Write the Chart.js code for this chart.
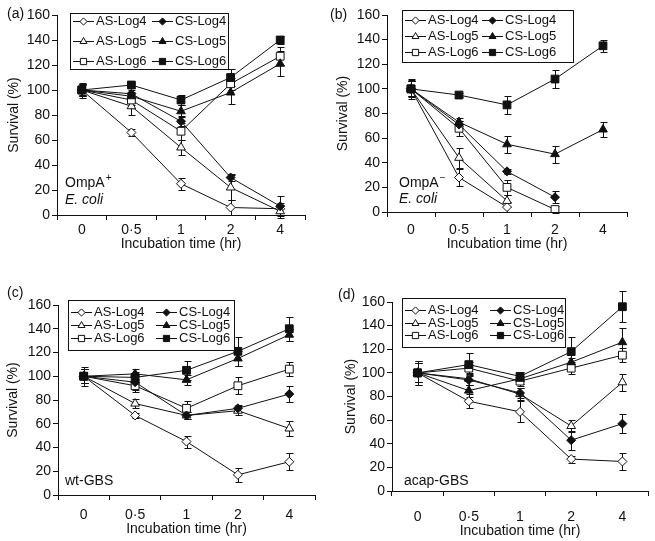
<!DOCTYPE html>
<html lang="en">
<head>
<meta charset="UTF-8">
<title>Survival vs incubation time</title>
<script src="https://cdn.jsdelivr.net/npm/chart.js"></script>
<style>
    body { margin: 0; background: #fff; }
    #wrap { position: relative; width: 655px; height: 541px; }
    canvas { position: absolute; }
</style>
</head>
<body>
<div id="wrap">
    <canvas id="chartA" width="327" height="270" style="left:0;top:0"></canvas>
    <canvas id="chartB" width="328" height="270" style="left:327px;top:0"></canvas>
    <canvas id="chartC" width="327" height="271" style="left:0;top:270px"></canvas>
    <canvas id="chartD" width="328" height="271" style="left:327px;top:270px"></canvas>
</div>
<script>
// categories and series (order: AS-Log4, AS-Log5, AS-Log6, CS-Log4, CS-Log5, CS-Log6)
const timeLabels = ['0', '0·5', '1', '2', '4'];
const seriesNames = ['AS-Log4', 'AS-Log5', 'AS-Log6', 'CS-Log4', 'CS-Log5', 'CS-Log6'];

// (a) OmpA+ E. coli
const aValues = [
    [100, 66, 25, 6, 5],
    [100, 87, 54, 22, 3],
    [100, 92, 67, 105, 127],
    [100, 97, 75, 30, 7],
    [100, 95, 83, 98, 121],
    [100, 104, 92, 110, 140]
];
const aErrors = [
    [4, 3, 5, 6, 5],
    [5, 7, 6, 10, 5],
    [5, 4, 7, 5, 7],
    [5, 3, 4, 3, 8],
    [6, 3, 5, 9, 10],
    [4, 2, 4, 7, 3]
];

// (b) OmpA- E. coli
const bValues = [
    [100, 28, 4, null, null],
    [100, 44, 9, null, null],
    [100, 68, 20, 2, null],
    [100, 71, 33, 12, null],
    [100, 73, 55, 47, 67],
    [100, 95, 87, 108, 135]
];
const bErrors = [
    [6, 7, 4, 0, 0],
    [6, 8, 5, 0, 0],
    [6, 6, 6, 3, 0],
    [7, 3, 2, 5, 0],
    [8, 3, 7, 7, 6],
    [6, 2, 7, 7, 5]
];

// (c) wt-GBS
const cValues = [
    [100, 67, 45, 17, 28],
    [100, 77, 67, 71, 56],
    [100, 92, 73, 92, 106],
    [100, 95, 67, 73, 85],
    [100, 102, 97, 115, 135],
    [100, 99, 105, 121, 140]
];
const cErrors = [
    [6, 2, 5, 6, 7],
    [6, 4, 3, 4, 6],
    [6, 5, 6, 7, 6],
    [6, 7, 3, 3, 7],
    [6, 4, 4, 6, 5],
    [8, 5, 8, 12, 10]
];

// (d) acap-GBS
const dValues = [
    [100, 76, 67, 27, 25],
    [100, 95, 82, 55, 92],
    [100, 104, 93, 104, 115],
    [100, 94, 83, 43, 57],
    [100, 85, 95, 109, 126],
    [100, 107, 97, 118, 156]
];
const dErrors = [
    [8, 6, 9, 3, 7],
    [8, 5, 5, 5, 7],
    [8, 5, 4, 5, 6],
    [8, 4, 4, 8, 8],
    [10, 5, 4, 4, 12],
    [10, 10, 4, 12, 13]
];

const INK = '#111';
const FONT = "'Liberation Sans', Arial, sans-serif";
const markerStyles = ['rectRot', 'triangle', 'rect'];
const markerRadius = { rectRot: 4.5, triangle: 5, rect: 5.5 };

// layout of each panel (canvas-local pixels)
const panels = [
    { id: 'chartA', tag: '(a)', values: aValues, errors: aErrors,
      left: 57, top: 15, right: 22, xHeight: 55, tickPad: 2, xTitleY: 244, yTitleX: 14,
      tagPos: [7, 14], legend: { x: 70, y: 13, w: 158, h: 56, gap: 20, col2: 79 },
      notes: [ { text: 'OmpA', sup: '+', dx: 8, dy: -32 }, { text: 'E. coli', italic: true, dx: 8, dy: -15 } ] },
    { id: 'chartB', tag: '(b)', values: bValues, errors: bErrors,
      left: 60, top: 15, right: 28, xHeight: 58, tickPad: 5, xTitleY: 244, yTitleX: 16,
      tagPos: [3, 15], legend: { x: 75, y: 10, w: 171, h: 52, gap: 16, col2: 77 },
      notes: [ { text: 'OmpA', sup: '\u2212', dx: 12, dy: -29 }, { text: 'E. coli', italic: true, dx: 12, dy: -13 } ] },
    { id: 'chartC', tag: '(c)', values: cValues, errors: cErrors,
      left: 58, top: 35, right: 12, xHeight: 46, tickPad: 6.6, xTitleY: 259, yTitleX: 13,
      tagPos: [7, 23], legend: { x: 68, y: 30, w: 166, h: 50, gap: 13, col2: 85 },
      notes: [ { text: 'wt-GBS', dx: 7, dy: -14 } ] },
    { id: 'chartD', tag: '(d)', values: dValues, errors: dErrors,
      left: 65, top: 32, right: 7, xHeight: 50, tickPad: 12.3, xTitleY: 261, yTitleX: 24,
      tagPos: [11, 25], legend: { x: 75, y: 28, w: 163, h: 49, gap: 12.5, col2: 85 },
      notes: [ { text: 'acap-GBS', dx: 12, dy: -10 } ] }
];

function drawMarker(ctx, style, x, y, r, filled) {
    ctx.beginPath();
    if (style === 'rect') {
        const s = r * Math.SQRT1_2;
        ctx.rect(x - s, y - s, 2 * s, 2 * s);
    } else if (style === 'rectRot') {
        ctx.moveTo(x, y - r); ctx.lineTo(x + r, y); ctx.lineTo(x, y + r); ctx.lineTo(x - r, y);
        ctx.closePath();
    } else {
        const a = 2 * Math.PI / 3;
        ctx.moveTo(x, y - r);
        ctx.lineTo(x + Math.sin(a) * r, y - Math.cos(a) * r);
        ctx.lineTo(x + Math.sin(2 * a) * r, y - Math.cos(2 * a) * r);
        ctx.closePath();
    }
    ctx.fillStyle = filled ? INK : '#fff';
    ctx.fill();
    ctx.stroke();
}

// vertical error bars with caps, under the markers
const errorBars = {
    id: 'errorBars',
    beforeDatasetsDraw(chart) {
        const { ctx } = chart;
        const y = chart.scales.y;
        ctx.save();
        ctx.strokeStyle = INK;
        ctx.lineWidth = 1;
        chart.data.datasets.forEach((ds, i) => {
            chart.getDatasetMeta(i).data.forEach((pt, j) => {
                const v = ds.data[j], e = ds.errors[j];
                if (v == null || !e) return;
                const x = Math.round(pt.x) + 0.5;
                const yt = Math.round(y.getPixelForValue(v + e)) + 0.5;
                const yb = Math.round(y.getPixelForValue(v - e)) + 0.5;
                ctx.beginPath();
                ctx.moveTo(x, yt); ctx.lineTo(x, yb);
                ctx.moveTo(x - 3, yt); ctx.lineTo(x + 4, yt);
                ctx.moveTo(x - 3, yb); ctx.lineTo(x + 4, yb);
                ctx.stroke();
            });
        });
        ctx.restore();
    }
};

function panelDecor(p) {
    return {
        id: 'panelDecor',
        afterDatasetsDraw(chart) {
            const { ctx, chartArea } = chart;
            const L = p.legend;
            ctx.save();
            // boxed legend, two columns
            ctx.fillStyle = '#fff';
            ctx.fillRect(L.x, L.y, L.w, L.h);
            ctx.strokeStyle = INK;
            ctx.lineWidth = 1;
            ctx.strokeRect(L.x + 0.5, L.y + 0.5, L.w, L.h);
            ctx.font = '13px ' + FONT;
            ctx.textBaseline = 'middle';
            ctx.textAlign = 'left';
            chart.data.datasets.forEach((ds, i) => {
                const col = i < 3 ? 0 : 1;
                const row = i % 3;
                const x0 = L.x + (col ? L.col2 : 0) + 3;
                const yy = Math.round(L.y + (L.h - 2 * L.gap) / 2 + row * L.gap) + 0.5;
                ctx.beginPath();
                ctx.moveTo(x0, yy); ctx.lineTo(x0 + 21, yy);
                ctx.stroke();
                drawMarker(ctx, ds.pointStyle, x0 + 10.5, yy, ds.pointRadius * 0.8, col === 1);
                ctx.fillStyle = INK;
                ctx.fillText(ds.label, x0 + 23, yy);
            });
            // strain notes in lower-left corner
            p.notes.forEach(n => {
                const x = chartArea.left + n.dx;
                const y = chartArea.bottom + n.dy;
                ctx.fillStyle = INK;
                ctx.font = (n.italic ? 'italic ' : '') + '14px ' + FONT;
                ctx.fillText(n.text, x, y);
                if (n.sup) {
                    const w = ctx.measureText(n.text).width;
                    ctx.font = '10px ' + FONT;
                    ctx.fillText(n.sup, x + w + 1, y - 5);
                }
            });
            // panel tag and axis titles
            ctx.font = '14px ' + FONT;
            ctx.fillText(p.tag, p.tagPos[0], p.tagPos[1]);
            ctx.textAlign = 'center';
            ctx.fillText('Incubation time (hr)', (chartArea.left + chartArea.right) / 2, p.xTitleY);
            ctx.translate(p.yTitleX, (chartArea.top + chartArea.bottom) / 2);
            ctx.rotate(-Math.PI / 2);
            ctx.fillText('Survival (%)', 0, 0);
            ctx.restore();
        }
    };
}

function buildChart(p) {
    const datasets = seriesNames.map((name, i) => {
        const style = markerStyles[i % 3];
        return {
            label: name,
            data: p.values[i],
            errors: p.errors[i],
            order: 5 - i,
            borderColor: INK,
            borderWidth: 1,
            pointStyle: style,
            pointRadius: markerRadius[style],
            pointBorderWidth: 1,
            pointBorderColor: INK,
            pointBackgroundColor: i < 3 ? '#fff' : INK,
            fill: false,
            tension: 0
        };
    });
    const tickFont = { family: FONT, size: 14 };
    new Chart(document.getElementById(p.id), {
        type: 'line',
        data: { labels: timeLabels, datasets: datasets },
        options: {
            responsive: false,
            animation: false,
            layout: { padding: { left: 0, top: p.top, right: p.right, bottom: 0 } },
            plugins: { legend: { display: false }, tooltip: { enabled: false } },
            scales: {
                x: {
                    offset: true,
                    grid: { offset: true, drawOnChartArea: false, tickLength: 5, color: INK },
                    border: { color: INK, width: 1 },
                    ticks: { font: tickFont, color: INK, padding: p.tickPad, maxRotation: 0 },
                    afterFit(scale) { scale.height = p.xHeight; }
                },
                y: {
                    min: 0,
                    max: 160,
                    grid: { drawOnChartArea: false, tickLength: 5, color: INK },
                    border: { color: INK, width: 1 },
                    ticks: { stepSize: 20, font: tickFont, color: INK, padding: 2 },
                    afterFit(scale) { scale.width = p.left; }
                }
            }
        },
        plugins: [errorBars, panelDecor(p)]
    });
}

panels.forEach(buildChart);
</script>
</body>
</html>
